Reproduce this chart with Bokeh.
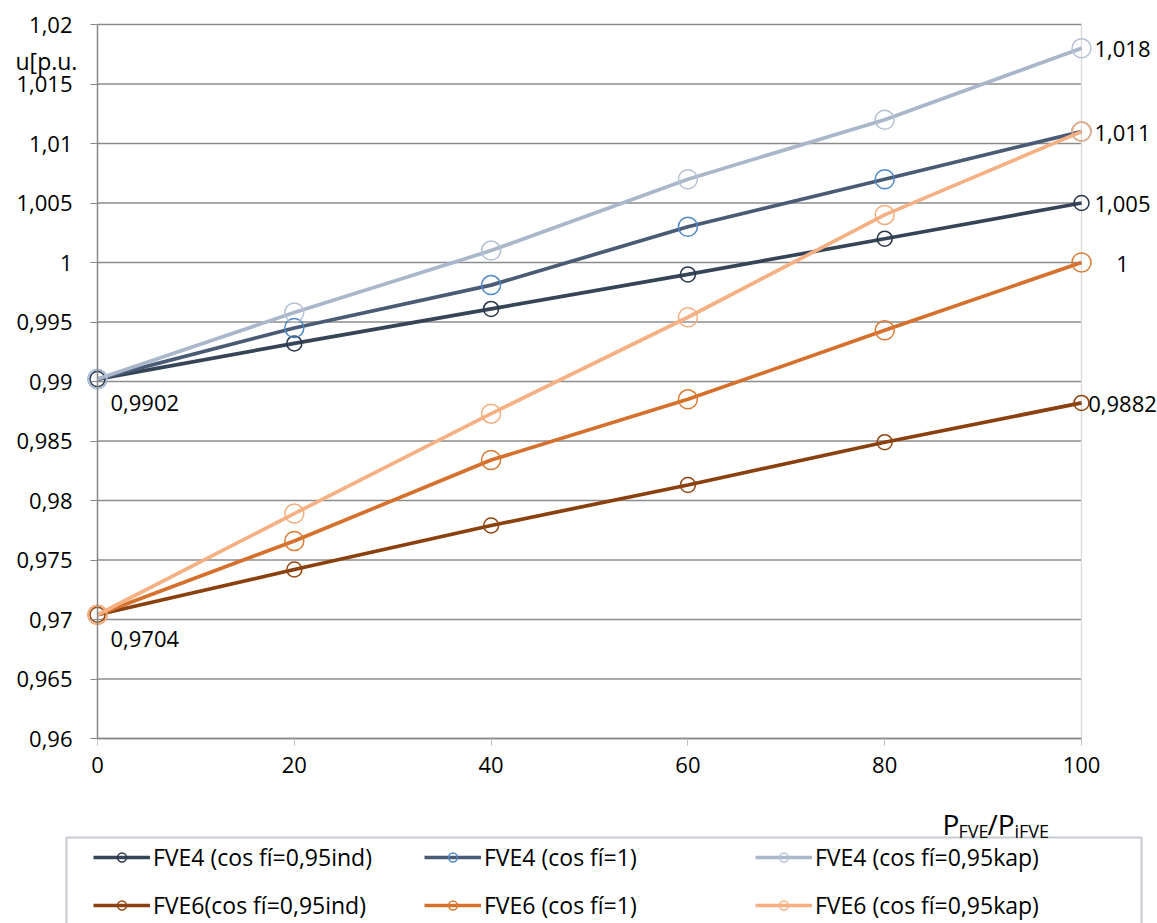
from bokeh.plotting import figure
from bokeh.models import Range1d, FixedTicker, Legend, LegendItem, Label, BoxAnnotation
from bokeh.embed import file_html
from bokeh.resources import INLINE
from bokeh.core.properties import value

# ---------------- data ----------------
x_vals = [0, 20, 40, 60, 80, 100]
fve4_ind = [0.9902, 0.9932, 0.9961, 0.9990, 1.0020, 1.005]
fve4_cos1 = [0.9902, 0.9945, 0.9981, 1.0030, 1.0070, 1.011]
fve4_kap = [0.9902, 0.9958, 1.0010, 1.0070, 1.0120, 1.018]
fve6_ind = [0.9704, 0.9742, 0.9779, 0.9813, 0.9849, 0.9882]
fve6_cos1 = [0.9704, 0.9766, 0.9834, 0.9885, 0.9943, 1.000]
fve6_kap = [0.9704, 0.9789, 0.9873, 0.9954, 1.0040, 1.011]

series_names = [
    "FVE4 (cos fí=0,95ind)", "FVE4 (cos fí=1)", "FVE4 (cos fí=0,95kap)",
    "FVE6(cos fí=0,95ind)", "FVE6 (cos fí=1)", "FVE6 (cos fí=0,95kap)",
]
series_values = [fve4_ind, fve4_cos1, fve4_kap, fve6_ind, fve6_cos1, fve6_kap]

y_ticks = [0.96, 0.965, 0.97, 0.975, 0.98, 0.985, 0.99, 0.995, 1.0, 1.005, 1.01, 1.015, 1.02]
y_tick_labels = ["0,96", "0,965", "0,97", "0,975", "0,98", "0,985", "0,99", "0,995",
                 "1", "1,005", "1,01", "1,015", "1,02"]
x_ticks = [0, 20, 40, 60, 80, 100]

y_title = "u[p.u."
x_title_parts = ["P", "FVE", "/P", "iFVE"]

# ---------------- styles ----------------
FONT = "Open Sans"
line_colors = ["#364458", "#4A5B75", "#AAB7CB", "#8A410F", "#D5712D", "#F5B083"]
marker_colors = ["#2A374A", "#4F88C6", "#B5C1D3", "#93450F", "#DA7A33", "#F4AE7E"]
marker_sizes = [15, 19, 19, 15, 19, 19]

W, H = 1157, 923
X0_PX, X100_PX = 97, 1081
YTOP_PX, YBOT_PX = 24, 738
kx = (X100_PX - X0_PX) / (x_vals[-1] - x_vals[0])
ky = (YBOT_PX - YTOP_PX) / (y_ticks[-1] - y_ticks[0])

p = figure(width=W, height=H, output_backend="svg", toolbar_location=None,
           x_range=Range1d(x_vals[0] - X0_PX / kx, x_vals[-1] + (W - X100_PX) / kx),
           y_range=Range1d(y_ticks[0] - (H - YBOT_PX) / ky, y_ticks[-1] + YTOP_PX / ky),
           min_border=0, min_border_left=0, min_border_right=0,
           min_border_top=0, min_border_bottom=0)
p.outline_line_color = None
p.background_fill_color = "white"
p.border_fill_color = "white"
p.xgrid.visible = False
p.ygrid.visible = False

# gridlines from the tick list
p.segment(x0=[x_vals[0]] * len(y_ticks), x1=[x_vals[-1]] * len(y_ticks), y0=y_ticks, y1=y_ticks,
          line_color="#8C8C8C", line_width=1.3, level="underlay")
p.segment(x0=[x_vals[-1]], x1=[x_vals[-1]], y0=[y_ticks[0]], y1=[y_ticks[-1]],
          line_color="#D9D9D9", line_width=1.3, level="underlay")

# axes
yax = p.yaxis[0]
yax.fixed_location = x_vals[0]
yax.bounds = (y_ticks[0], y_ticks[-1])
yax.ticker = FixedTicker(ticks=y_ticks)
yax.major_label_overrides = {t: l for t, l in zip(y_ticks, y_tick_labels)}
yax.axis_line_color = "#868686"
yax.axis_line_width = 1.5
yax.major_tick_out = 7
yax.major_tick_in = 0
yax.minor_tick_out = 0
yax.minor_tick_in = 0
yax.major_tick_line_color = "#868686"
yax.major_label_standoff = 18
yax.major_label_text_font = FONT
yax.major_label_text_font_size = "22px"
yax.major_label_text_color = "#000000"

xax = p.xaxis[0]
xax.fixed_location = y_ticks[0]
xax.bounds = (x_vals[0], x_vals[-1])
xax.ticker = FixedTicker(ticks=x_ticks)
xax.axis_line_color = "#868686"
xax.axis_line_width = 1.5
xax.major_tick_out = 7
xax.major_tick_in = 0
xax.minor_tick_out = 0
xax.minor_tick_in = 0
xax.major_tick_line_color = "#BFBFBF"
xax.major_label_standoff = 11
xax.major_label_text_font = FONT
xax.major_label_text_font_size = "22px"
xax.major_label_text_color = "#000000"

# series
items = []
for name, vals, lc, mc, ms in zip(series_names, series_values, line_colors, marker_colors, marker_sizes):
    lr = p.line(x_vals, vals, line_color=lc, line_width=3.7)
    sr = p.scatter(x_vals, vals, marker="circle", size=ms, fill_alpha=0,
                   line_color=mc, line_width=1.5)
    items.append(LegendItem(label=name, renderers=[lr, sr]))

# data labels
def fmt(v):
    return f"{v:.4f}".rstrip("0").rstrip(".").replace(".", ",")

left_vals = [fve4_ind[0], fve6_ind[0]]
p.text(x=[x_vals[0]] * len(left_vals), y=left_vals, text=[fmt(v) for v in left_vals],
       x_offset=13, y_offset=24, text_align="left", text_baseline="middle",
       text_font=value(FONT), text_font_size="22px", text_color="#000000")

right_vals = [fve4_kap[-1], fve4_cos1[-1], fve4_ind[-1], fve6_cos1[-1], fve6_ind[-1]]
p.text(x=[x_vals[-1]] * len(right_vals), y=right_vals, text=[fmt(v) for v in right_vals],
       x_offset=41, y_offset=1, text_align="center", text_baseline="middle",
       text_font=value(FONT), text_font_size="22px", text_color="#000000")

# axis titles
p.add_layout(Label(x=15, y=H - 60, x_units="screen", y_units="screen", text=y_title,
                   text_font=FONT, text_font_size="23px", text_color="#000000",
                   text_baseline="middle", text_align="left"))
title_pos = [(942, 823, "28px"), (958, 830, "18px"), (987, 823, "28px"), (1014, 830, "18px")]
for part, (tx, ty, fs) in zip(x_title_parts, title_pos):
    p.add_layout(Label(x=tx, y=H - ty, x_units="screen", y_units="screen", text=part,
                       text_font=FONT, text_font_size=fs, text_color="#000000",
                       text_baseline="alphabetic", text_align="left"))

# legend frame and legend
p.add_layout(BoxAnnotation(left=66, right=1141, top=H - 837, bottom=-10,
                           left_units="screen", right_units="screen",
                           top_units="screen", bottom_units="screen",
                           fill_alpha=0, line_color="#44526A", line_width=2))
legend = Legend(items=items, location=(93, 2), orientation="horizontal", ncols=3,
                padding=0, margin=0, spacing=16, label_width=255,
                glyph_width=57, glyph_height=22, label_height=22, label_standoff=3,
                label_text_font=FONT, label_text_font_size="23px", label_text_color="#000000",
                border_line_color=None, background_fill_alpha=0)
p.add_layout(legend)

open("out.html", "w").write(file_html(p, INLINE))
